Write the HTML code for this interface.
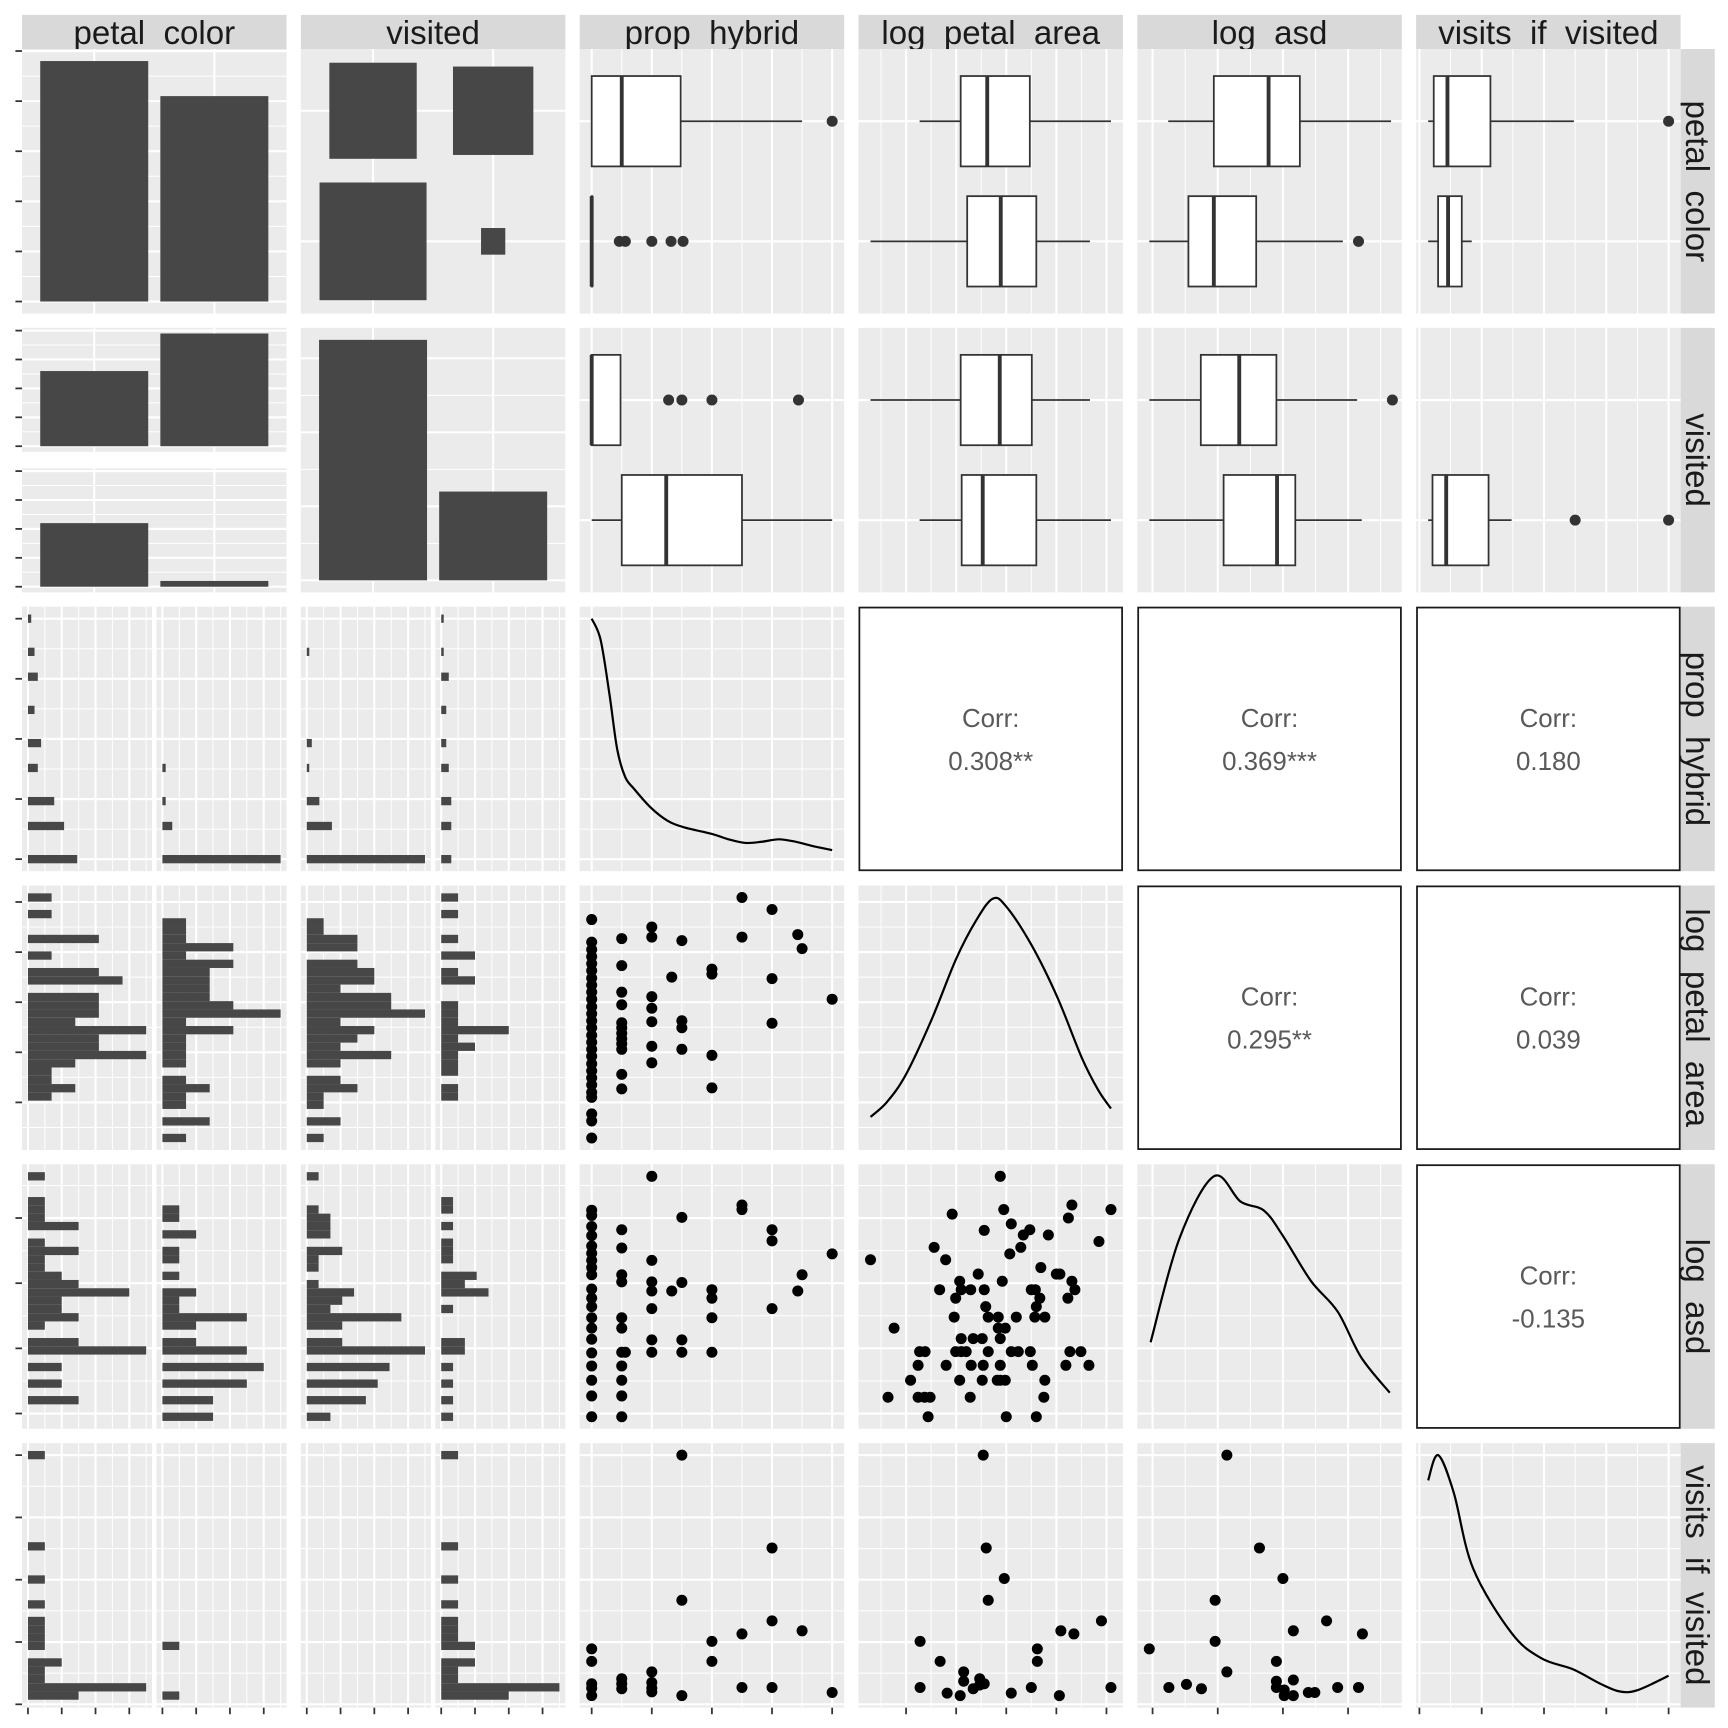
<!DOCTYPE html>
<html><head><meta charset="utf-8"><title>ggpairs matrix</title>
<style>html,body{margin:0;padding:0;background:#fff}svg{display:block}text{white-space:pre}</style></head>
<body>
<svg id="chart" xmlns="http://www.w3.org/2000/svg" width="1728" height="1728" viewBox="0 0 1568 1568" font-family="Liberation Sans, Arial, sans-serif"></svg>
<script>
// ---------- data ----------
const varNames = ["petal  color","visited","prop  hybrid","log  petal  area","log  asd","visits  if  visited"];
const varMin = [null,null,0,0.29,0.95,0.14];
const varMax = [null,null,1,5.09,4.64,4.0];
const phTicks = [0,0.25,0.5,0.75,1];
const lpaTicks = [1,2,3,4,5];
const asdTicks = [1,2,3,4];
const visTicks = [0,1,2,3,4];
const colorLevels = ["pink","white"];
const visitedLevels = ["no","yes"];
const colorCounts = [48,41];
const visitedCounts = [65,24];
const countsVisitedColor = [[26,39],[22,2]];
const ratioCounts = [[26,22],[39,2]];
const boxColorPH = [[0,0,0.125,0.37,0.875],[0,0,0,0,0]];
const outColorPH = [[1.0],[0.115,0.14,0.25,0.33,0.38]];
const boxColorLPA = [[1.27,2.09,2.62,3.47,5.09],[0.29,2.22,2.89,3.6,4.67]];
const outColorLPA = [[],[]];
const boxColorASD = [[1.24,1.94,2.78,3.26,4.66],[0.95,1.55,1.94,2.59,3.92]];
const outColorASD = [[],[4.16]];
const boxColorVIS = [[0.14,0.23,0.45,1.14,2.48],[0.14,0.3,0.46,0.68,0.84]];
const outColorVIS = [[4.0],[]];
const boxVisitedPH = [[0,0,0,0.12,0.12],[0,0.125,0.31,0.625,1.0]];
const outVisitedPH = [[0.32,0.375,0.5,0.86],[]];
const boxVisitedLPA = [[0.29,2.09,2.87,3.51,4.67],[1.27,2.11,2.53,3.6,5.09]];
const outVisitedLPA = [[],[]];
const boxVisitedASD = [[0.95,1.74,2.33,2.9,4.14],[0.95,2.09,2.91,3.19,4.21]];
const outVisitedASD = [[4.68],[]];
const boxVisitedVIS = [null,[0.14,0.21,0.43,1.11,1.48]];
const outVisitedVIS = [[],[2.5,4.0]];
const histPHpink  = [15,0,0,0,11,0,0,8,0,0,0,3,0,0,4,0,0,0,2,0,0,0,3,0,0,2,0,0,0,1];
const histPHwhite = [36,0,0,0,3,0,0,1,0,0,0,1,0,0,0,0,0,0,0,0,0,0,0,0,0,0,0,0,0,0];
const histPHno    = [47,0,0,0,10,0,0,5,0,0,0,1,0,0,2,0,0,0,0,0,0,0,0,0,0,1,0,0,0,0];
const histPHyes   = [4,0,0,0,4,0,0,4,0,0,0,3,0,0,2,0,0,0,2,0,0,0,3,0,0,1,0,0,0,1];
const histLPApink  = [0,0,0,0,0,1,2,1,1,2,5,3,3,5,2,3,3,3,0,4,3,0,1,0,3,0,0,1,0,1];
const histLPAwhite = [1,0,2,0,1,1,2,1,0,1,1,1,1,3,1,5,3,2,2,2,2,3,1,3,1,1,1,0,0,0];
const histLPAno    = [1,0,2,0,1,1,3,2,0,2,5,2,3,4,2,7,5,5,2,4,4,3,0,3,3,1,1,0,0,0];
const histLPAyes   = [0,0,0,0,0,1,1,0,1,1,1,2,1,4,1,1,1,0,0,2,1,0,2,0,1,0,0,1,0,1];
const histASDpink  = [0,0,3,0,2,0,2,0,7,3,0,1,3,2,2,6,3,2,1,1,3,1,0,3,1,1,1,0,0,1];
const histASDwhite = [3,0,3,0,5,0,6,0,5,2,0,2,5,1,1,2,0,1,0,1,1,0,2,0,1,1,0,0,0,0];
const histASDno    = [2,0,5,0,6,0,7,0,10,3,0,3,8,2,3,4,1,0,1,1,3,0,2,2,2,1,0,0,0,1];
const histASDyes   = [1,0,1,0,1,0,1,0,2,2,0,0,0,1,0,4,2,3,0,1,1,1,0,1,0,1,1,0,0,0];
const histVISpink  = [3,7,1,1,2,0,1,1,1,1,0,1,0,0,1,0,0,0,1,0,0,0,0,0,0,0,0,0,0,1];
const histVISwhite = [1,0,0,0,0,0,1,0,0,0,0,0,0,0,0,0,0,0,0,0,0,0,0,0,0,0,0,0,0,0];
const histVISno    = [0,0,0,0,0,0,0,0,0,0,0,0,0,0,0,0,0,0,0,0,0,0,0,0,0,0,0,0,0,0];
const histVISyes   = [4,7,1,1,2,0,2,1,1,1,0,1,0,0,1,0,0,0,1,0,0,0,0,0,0,0,0,0,0,1];
const densPHx = [0,0.037,0.074,0.106,0.139,0.176,0.245,0.315,0.384,0.5,0.569,0.639,0.708,0.778,0.847,0.917,1];
const densPHy = [4.0,3.65,2.74,1.83,1.37,1.17,0.86,0.64,0.53,0.42,0.33,0.27,0.29,0.33,0.29,0.22,0.15];
const densLPAx = [0.29,0.62,1,1.51,2,2.4,2.73,3,3.51,4.02,4.51,4.84,5.09];
const densLPAy = [0.35,0.6,1.06,1.97,2.98,3.62,3.98,3.85,3.2,2.34,1.33,0.79,0.49];
const densASDx = [0.97,1.41,1.94,2.35,2.71,3.0,3.43,3.84,4.2,4.64];
const densASDy = [1.24,2.96,4.0,3.58,3.43,3.01,2.26,1.75,0.99,0.4];
const densVISx = [0.14,0.3,0.55,0.86,1.48,1.96,2.46,2.9,3.21,3.5,4.0];
const densVISy = [3.58,4.0,3.38,2.12,1.04,0.62,0.44,0.2,0.07,0.09,0.33];
const densDomain = [0,4];
const scPH_lpa_x = [0,0,0,0,0,0,0,0,0,0,0,0,0,0,0,0,0,0,0,0,0,0,0,0,0,0,0,
 0.125,0.125,0.125,0.125,0.125,0.125,0.125,0.125,0.125,0.125,0.125,0.125,
 0.25,0.25,0.25,0.25,0.25,0.25,0.25,0.333,0.375,0.375,0.375,0.375,0.5,0.5,0.5,0.5,0.625,0.625,0.75,0.75,0.75,0.857,0.875,1];
const scPH_lpa_y = [4.65,4.2,4.05,3.91,3.77,3.63,3.48,3.34,3.2,3.06,2.91,2.77,2.63,2.49,2.34,2.2,2.06,1.92,1.77,1.63,1.49,1.35,1.2,1.1,0.77,0.63,0.29,
 4.27,3.73,3.2,2.95,2.59,2.49,2.38,2.27,2.17,2.06,1.56,1.27,
 4.5,4.3,3.11,2.88,2.61,2.12,1.79,3.5,4.23,2.63,2.49,2.06,3.66,3.56,1.94,1.29,5.09,4.3,4.85,3.47,2.58,4.35,4.07,3.06];
const scPH_asd_x = [0,0,0,0,0,0,0,0,0,0,0,0,0,0,0,0,0,0,0,0,
 0.125,0.125,0.125,0.125,0.125,0.125,0.125,0.14,0.125,0.125,0.125,0.125,
 0.25,0.25,0.25,0.25,0.25,0.25,0.25,0.333,0.375,0.375,0.375,0.375,0.5,0.5,0.5,0.5,0.625,0.625,0.75,0.75,0.75,0.857,0.875,1];
const scPH_asd_y = [4.12,4.04,3.87,3.73,3.57,3.46,3.35,3.24,3.13,2.91,2.77,2.64,2.47,2.31,2.14,1.93,1.73,1.51,1.27,0.95,
 3.82,3.54,3.13,3.02,2.47,2.31,1.94,1.94,1.73,1.51,1.27,0.95,
 4.64,3.35,3.02,2.88,2.61,2.13,1.94,2.88,4.01,3.01,2.13,1.94,2.9,2.77,2.47,1.94,4.2,4.13,3.82,3.65,2.61,2.88,3.13,3.45];
const scLPA_asd_x = [2.88,2.95,4.31,5.09,1.92,4.24,2.56,3.10,3.47,3.34,3.84,4.85,1.56,3.29,3.07,0.29,1.79,3.69,2.44,4.0,4.07,2.07,2.92,4.31,1.67,2.10,2.29,2.56,3.50,3.58,4.37,1.99,3.67,4.23,2.59,3.6,1.96,2.64,2.84,3.20,3.57,3.77,0.76,2.84,2.98,2.10,2.34,2.52,2.88,1.27,1.38,1.99,2.10,2.20,2.64,3.10,3.24,3.48,4.27,4.49,1.24,1.80,2.30,2.54,2.88,3.52,4.19,4.65,1.09,2.07,2.52,2.82,2.88,2.98,3.77,0.64,1.24,1.37,1.48,2.28,3.75,1.44,3.0,3.6];
const scLPA_asd_y = [4.64,4.13,4.2,4.13,4.06,4.0,3.81,3.91,3.82,3.74,3.74,3.64,3.55,3.55,3.45,3.36,3.36,3.24,3.14,3.14,3.14,3.03,3.03,3.03,2.9,2.9,2.9,2.9,2.9,2.9,2.9,2.77,2.77,2.77,2.64,2.64,2.48,2.48,2.48,2.48,2.48,2.48,2.31,2.31,2.31,2.15,2.15,2.15,2.15,1.95,1.95,1.95,1.95,1.95,1.95,1.95,1.95,1.95,1.95,1.95,1.74,1.74,1.74,1.74,1.74,1.74,1.74,1.74,1.51,1.51,1.51,1.51,1.51,1.51,1.51,1.25,1.25,1.25,1.25,1.25,1.25,0.95,0.95,0.95];
const scPH_vis_x = [0,0,0,0,0,0.125,0.125,0.125,0.25,0.25,0.25,0.25,0.375,0.375,0.375,0.5,0.5,0.625,0.625,0.75,0.75,0.75,0.875,1];
const scPH_vis_y = [0.89,0.69,0.33,0.14,0.26,0.41,0.25,0.33,0.52,0.35,0.20,0.26,4.0,1.67,0.14,1.01,0.69,1.13,0.27,2.51,1.34,0.27,1.18,0.19];
const scLPA_vis_x = [1.28,1.28,1.68,1.82,2.08,2.15,2.15,2.34,2.47,2.54,2.56,2.6,2.64,2.96,3.1,3.5,3.62,3.62,4.06,4.09,4.35,4.9,5.09,2.47];
const scLPA_vis_y = [1.01,0.27,0.69,0.18,0.14,0.52,0.37,0.25,0.41,4.0,0.33,2.51,1.67,2.02,0.18,0.27,0.89,0.69,0.14,1.18,1.13,1.34,0.27,0.31];
const scASD_vis_x = [0.95,1.25,1.52,1.75,1.96,1.96,2.14,2.14,2.64,2.9,2.9,2.9,3.0,3.02,3.16,3.16,3.16,3.39,3.49,3.67,3.84,4.16,4.22,3.02];
const scASD_vis_y = [0.89,0.27,0.32,0.25,1.67,1.01,4.0,0.52,2.51,0.69,0.37,0.27,2.02,0.14,1.18,0.39,0.14,0.19,0.19,1.34,0.27,0.27,1.13,0.23];
const corrLabels = ["0.308**","0.369***","0.180","0.295**","0.039","-0.135"];
const corrCells = [[2,3],[2,4],[2,5],[3,4],[3,5],[4,5]];

// ---------- layout ----------
const NS = "http://www.w3.org/2000/svg";
const svg = document.getElementById('chart');
const P = 240, PAD = 10.9, GRIDBG = "#ebebeb", BAR = "#474747";
const varTicks = [null,null,phTicks,lpaTicks,asdTicks,visTicks];
function colX(c){return 20+253*c;}
function rowY(r){return 44.5+253*r;}
function sx(c,v){return colX(c)+PAD+(v-varMin[c])/(varMax[c]-varMin[c])*(P-2*PAD);}
function sy(r,v){return rowY(r)+P-PAD-(v-varMin[r])/(varMax[r]-varMin[r])*(P-2*PAD);}
function mk(tag,attrs,parent){const e=document.createElementNS(NS,tag);for(const k in attrs)e.setAttribute(k,attrs[k]);(parent||svg).appendChild(e);return e;}
function minors(t){const m=[];const s=t[1]-t[0];m.push(t[0]-s/2);for(let i=0;i<t.length-1;i++)m.push((t[i]+t[i+1])/2);m.push(t[t.length-1]+s/2);return m;}
function gridLines(g,x0,y0,w,h,vMaj,vMin,hMaj,hMin){
  mk('rect',{x:x0,y:y0,width:w,height:h,fill:GRIDBG},g);
  hMin.forEach(y=>{if(y>y0&&y<y0+h)mk('line',{x1:x0,x2:x0+w,y1:y,y2:y,stroke:'#fff','stroke-width':0.9},g);});
  vMin.forEach(x=>{if(x>x0&&x<x0+w)mk('line',{x1:x,x2:x,y1:y0,y2:y0+h,stroke:'#fff','stroke-width':0.9},g);});
  hMaj.forEach(y=>{if(y>y0&&y<y0+h)mk('line',{x1:x0,x2:x0+w,y1:y,y2:y,stroke:'#fff','stroke-width':1.9},g);});
  vMaj.forEach(x=>{if(x>x0&&x<x0+w)mk('line',{x1:x,x2:x,y1:y0,y2:y0+h,stroke:'#fff','stroke-width':1.9},g);});
}
function panelGroup(r,c,name){const g=mk('g',{});return g;}
function levelX(c,i){return colX(c)+65.5+109*i;}
function levelY(r,i){return rowY(r)+65.5+109*i;}
function contV(c){return [varTicks[c].map(t=>sx(c,t)),minors(varTicks[c]).map(t=>sx(c,t))];}
function contH(r){return [varTicks[r].map(t=>sy(r,t)),minors(varTicks[r]).map(t=>sy(r,t))];}
function dot(g,x,y,name){const d=mk('circle',{cx:x,cy:y,r:5,fill:'#000'},g);return d;}

// ---------- strips ----------
for(let i=0;i<6;i++){
  const s=mk('rect',{x:colX(i),y:13.5,width:P,height:31,fill:'#d9d9d9'});
  
  
  const t=mk('text',{x:colX(i)+P/2,y:40,'text-anchor':'middle','font-size':30,fill:'#1a1a1a'});
  t.textContent=varNames[i];
  
  
  const s2=mk('rect',{x:colX(5)+P,y:rowY(i),width:31,height:P,fill:'#d9d9d9'});
  
  
  const cx=colX(5)+P+5, cy=rowY(i)+P/2;
  const t2=mk('text',{x:cx,y:cy,transform:'rotate(90 '+cx+' '+cy+')','text-anchor':'middle','font-size':30,fill:'#1a1a1a'});
  t2.textContent=varNames[i];
  
  
}

// ---------- row1/row2 x col1/col2 ----------
(function(){
  let g=panelGroup(0,0,'panel-color-bars');
  const u1=(P-2*PAD)/colorCounts[0];
  const base1=rowY(0)+P-PAD;
  const hMaj=[],hMin=[];for(let c=0;c<=50;c+=10){hMaj.push(base1-c*u1);hMin.push(base1-(c+5)*u1);}
  gridLines(g,colX(0),rowY(0),P,P,[levelX(0,0),levelX(0,1)],[],hMaj,hMin);
  colorCounts.forEach((n,i)=>{const b=mk('rect',{x:levelX(0,i)-49,y:base1-n*u1,width:98,height:n*u1,fill:BAR},g);});
  hMaj.forEach(y=>{if(y>rowY(0)-1)mk('line',{x1:14,x2:20,y1:y,y2:y,stroke:'#333','stroke-width':1.6});});
  g=panelGroup(0,1,'panel-color-visited-ratio');
  const ry=[rowY(0)+56,rowY(0)+174.5];
  gridLines(g,colX(1),rowY(0),P,P,[levelX(1,0),levelX(1,1)],[],ry,[]);
  ratioCounts.forEach((row,i)=>row.forEach((n,j)=>{const w=15.55*Math.sqrt(n),h=17.1*Math.sqrt(n);const b=mk('rect',{x:levelX(1,j)-w/2,y:ry[i]-h/2,width:w,height:h,fill:BAR},g);}));
  g=panelGroup(1,0,'panel-visited-color-bars');
  const fh=112.5, fTop=[rowY(1),rowY(1)+127.5];
  const maxc=Math.max(...countsVisitedColor.flat());
  const u2=(fh-2*5.1)/maxc;
  fTop.forEach((ft,f)=>{
    const base=ft+fh-5.1;
    const mj=[],mn=[];for(let c=0;c<=40;c+=10){mj.push(base-c*u2);mn.push(base-(c+5)*u2);}
    gridLines(g,colX(0),ft,P,fh,[levelX(0,0),levelX(0,1)],[],mj,mn);
    countsVisitedColor[f].forEach((n,i)=>{const b=mk('rect',{x:levelX(0,i)-49,y:base-n*u2,width:98,height:n*u2,fill:BAR},g);});
    mj.forEach(y=>{if(y>ft)mk('line',{x1:14,x2:20,y1:y,y2:y,stroke:'#333','stroke-width':1.6});});
  });
  g=panelGroup(1,1,'panel-visited-bars');
  const u3=(P-2*PAD)/visitedCounts[0], base3=rowY(1)+P-PAD;
  const mj3=[],mn3=[];for(let c=0;c<=60;c+=20){mj3.push(base3-c*u3);mn3.push(base3-(c+10)*u3);}
  gridLines(g,colX(1),rowY(1),P,P,[levelX(1,0),levelX(1,1)],[],mj3,mn3);
  visitedCounts.forEach((n,i)=>{const b=mk('rect',{x:levelX(1,i)-49,y:base3-n*u3,width:98,height:n*u3,fill:BAR},g);});
})();

// ---------- boxplots ----------
function drawBoxes(r,c,stats,outs,name){
  const g=panelGroup(r,c,name);
  const [vM,vm]=contV(c);
  gridLines(g,colX(c),rowY(r),P,P,vM,vm,[levelY(r,0),levelY(r,1)],[]);
  stats.forEach((s,i)=>{
    const y=levelY(r,i);
    if(s){
      const [lo,q1,md,q3,hi]=s;
      mk('line',{x1:sx(c,lo),x2:sx(c,q1),y1:y,y2:y,stroke:'#333','stroke-width':1.6},g);
      mk('line',{x1:sx(c,q3),x2:sx(c,hi),y1:y,y2:y,stroke:'#333','stroke-width':1.6},g);
      const b=mk('rect',{x:sx(c,q1),y:y-41,width:Math.max(sx(c,q3)-sx(c,q1),0.5),height:82,fill:'#fff',stroke:'#333','stroke-width':1.6},g);
      
      
      mk('line',{x1:sx(c,md),x2:sx(c,md),y1:y-41,y2:y+41,stroke:'#333','stroke-width':3.5},g);
    }
    outs[i].forEach(v=>{const d=mk('circle',{cx:sx(c,v),cy:y,r:5,fill:'#333'},g);});
  });
}
drawBoxes(0,2,boxColorPH,outColorPH,'panel-color-prop-hybrid');
drawBoxes(0,3,boxColorLPA,outColorLPA,'panel-color-log-petal-area');
drawBoxes(0,4,boxColorASD,outColorASD,'panel-color-log-asd');
drawBoxes(0,5,boxColorVIS,outColorVIS,'panel-color-visits');
drawBoxes(1,2,boxVisitedPH,outVisitedPH,'panel-visited-prop-hybrid');
drawBoxes(1,3,boxVisitedLPA,outVisitedLPA,'panel-visited-log-petal-area');
drawBoxes(1,4,boxVisitedASD,outVisitedASD,'panel-visited-log-asd');
drawBoxes(1,5,boxVisitedVIS,outVisitedVIS,'panel-visited-visits');

// ---------- histograms ----------
function drawHist(r,c,a,b,name){
  const g=panelGroup(r,c,name);
  const [hM,hm]=contH(r);
  const subW=118, subs=[colX(c),colX(c)+122];
  const mx=Math.max(...a,...b,1);
  const unit=(subW/1.1)/mx, gridUnit=(subW/1.1)/7;
  const w=(varMax[r]-varMin[r])/29;
  [a,b].forEach((arr,s)=>{
    const x0=subs[s], base=x0+subW*0.0455;
    const vM=[0,2,4,6].map(k=>base+k*gridUnit), vm=[1,3,5,7].map(k=>base+k*gridUnit);
    gridLines(g,x0,rowY(r),subW,P,vM,vm,hM,hm);
    arr.forEach((n,k)=>{
      if(!n)return;
      const v=varMin[r]+k*w;
      const yt=sy(r,v+w/2), yb=sy(r,v-w/2);
      const bar=mk('rect',{x:base,y:yt,width:n*unit,height:yb-yt,fill:BAR},g);
      
      
    });
    if(r===5){[0,2,4,6].forEach(k=>mk('line',{x1:base+k*gridUnit,x2:base+k*gridUnit,y1:rowY(5)+P,y2:rowY(5)+P+6,stroke:'#333','stroke-width':1.6}));}
  });
}
drawHist(2,0,histPHpink,histPHwhite,'panel-hist-prop-hybrid-color');
drawHist(2,1,histPHno,histPHyes,'panel-hist-prop-hybrid-visited');
drawHist(3,0,histLPApink,histLPAwhite,'panel-hist-log-petal-area-color');
drawHist(3,1,histLPAno,histLPAyes,'panel-hist-log-petal-area-visited');
drawHist(4,0,histASDpink,histASDwhite,'panel-hist-log-asd-color');
drawHist(4,1,histASDno,histASDyes,'panel-hist-log-asd-visited');
drawHist(5,0,histVISpink,histVISwhite,'panel-hist-visits-color');
drawHist(5,1,histVISno,histVISyes,'panel-hist-visits-visited');

// ---------- continuous panels ----------
function catmull(pts){let d='M'+pts[0][0]+','+pts[0][1];for(let i=0;i<pts.length-1;i++){const p0=pts[Math.max(i-1,0)],p1=pts[i],p2=pts[i+1],p3=pts[Math.min(i+2,pts.length-1)];const c1=[p1[0]+(p2[0]-p0[0])/6,p1[1]+(p2[1]-p0[1])/6],c2=[p2[0]-(p3[0]-p1[0])/6,p2[1]-(p3[1]-p1[1])/6];d+=' C'+c1[0]+','+c1[1]+' '+c2[0]+','+c2[1]+' '+p2[0]+','+p2[1];}return d;}
function drawDensity(k,xs,ys,name){
  const g=panelGroup(k,k,name);
  const [vM,vm]=contV(k),[hM,hm]=contH(k);
  gridLines(g,colX(k),rowY(k),P,P,vM,vm,hM,hm);
  const y0=rowY(k)+P-PAD, h=P-2*PAD;
  const pts=xs.map((x,i)=>[sx(k,x),y0-(ys[i]-densDomain[0])/(densDomain[1]-densDomain[0])*h]);
  const p=mk('path',{d:catmull(pts),fill:'none',stroke:'#000','stroke-width':2},g);
  
  
}
drawDensity(2,densPHx,densPHy,'panel-density-prop-hybrid');
drawDensity(3,densLPAx,densLPAy,'panel-density-log-petal-area');
drawDensity(4,densASDx,densASDy,'panel-density-log-asd');
drawDensity(5,densVISx,densVISy,'panel-density-visits');

function drawScatter(r,c,xs,ys,name){
  const g=panelGroup(r,c,name);
  const [vM,vm]=contV(c),[hM,hm]=contH(r);
  gridLines(g,colX(c),rowY(r),P,P,vM,vm,hM,hm);
  xs.forEach((x,i)=>dot(g,sx(c,x),sy(r,ys[i]),'point'));
}
drawScatter(3,2,scPH_lpa_x,scPH_lpa_y,'panel-scatter-prop-hybrid-log-petal-area');
drawScatter(4,2,scPH_asd_x,scPH_asd_y,'panel-scatter-prop-hybrid-log-asd');
drawScatter(4,3,scLPA_asd_x,scLPA_asd_y,'panel-scatter-log-petal-area-log-asd');
drawScatter(5,2,scPH_vis_x,scPH_vis_y,'panel-scatter-prop-hybrid-visits');
drawScatter(5,3,scLPA_vis_x,scLPA_vis_y,'panel-scatter-log-petal-area-visits');
drawScatter(5,4,scASD_vis_x,scASD_vis_y,'panel-scatter-log-asd-visits');

corrCells.forEach(([r,c],i)=>{
  const g=panelGroup(r,c,'panel-corr');
  mk('rect',{x:colX(c)+0.8,y:rowY(r)+0.8,width:P-1.6,height:P-1.6,fill:'#fff',stroke:'#1a1a1a','stroke-width':1.6},g);
  const cx=colX(c)+P/2, cy=rowY(r)+P/2;
  const t1=mk('text',{x:cx,y:cy-11,'text-anchor':'middle','font-size':23.5,fill:'#595959'},g);
  t1.textContent='Corr:';
  
  
  const t2=mk('text',{x:cx,y:cy+28,'text-anchor':'middle','font-size':23.5,fill:'#595959'},g);
  t2.textContent=corrLabels[i];
  
  
});

// ---------- axis ticks ----------
for(let r=2;r<6;r++){varTicks[r].forEach(t=>{const y=sy(r,t);if(y>=rowY(r)&&y<=rowY(r)+P)mk('line',{x1:14,x2:20,y1:y,y2:y,stroke:'#333','stroke-width':1.6});});}
for(let c=2;c<6;c++){varTicks[c].forEach(t=>{const x=sx(c,t);if(x>=colX(c)&&x<=colX(c)+P)mk('line',{x1:x,x2:x,y1:rowY(5)+P,y2:rowY(5)+P+6,stroke:'#333','stroke-width':1.6});});}
</script>
</body></html>
